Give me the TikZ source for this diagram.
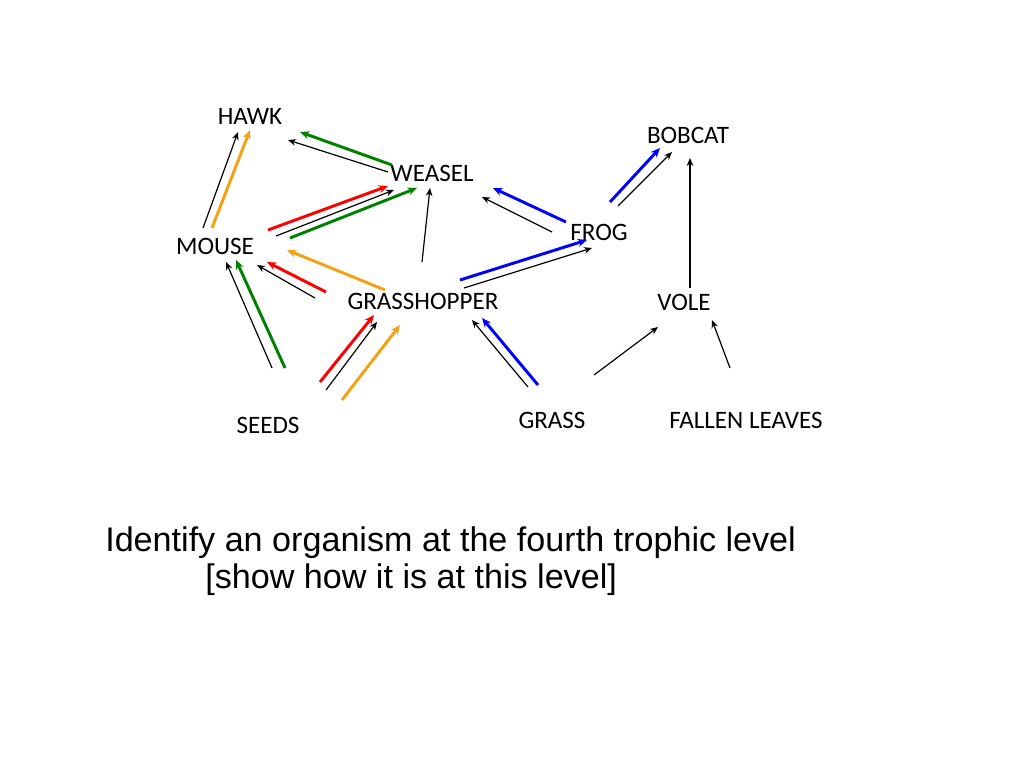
\documentclass[tikz,border=0pt]{standalone}
\usepackage{fontspec}
\setmainfont{Carlito}
\newfontfamily\arialf{Liberation Sans}
\usetikzlibrary{arrows.meta}
\definecolor{org}{RGB}{246,160,20}
\definecolor{grn}{RGB}{0,128,0}
\begin{document}
\begin{tikzpicture}[x=0.75pt,y=-0.75pt,
  lab/.style={font=\fontsize{18.8}{21}\selectfont,inner sep=0},
  bk/.style={-{Stealth[length=6pt,width=5pt]},line width=0.9pt,black},
  cl/.style={-{Stealth[length=7pt,width=6pt]},line width=2.2pt,draw=#1}]
\useasboundingbox (0,0) rectangle (1024,768);
\node[lab] (hawk) at (250,116) {HAWK};
\node[lab] (bobcat) at (688,135) {BOBCAT};
\node[lab] (weasel) at (432,173) {WEASEL};
\node[lab] (frog) at (599,232) {FROG};
\node[lab] (mouse) at (215,246) {MOUSE};
\node[lab] (gh) at (423,301) {GRASSHOPPER};
\node[lab] (vole) at (684,302) {VOLE};
\node[lab] (seeds) at (268,425) {SEEDS};
\node[lab] (grass) at (552,420) {GRASS};
\node[lab] (fallen) at (746,420) {FALLEN LEAVES};
\node[anchor=west,inner sep=0,font=\arialf\fontsize{25.6}{28}\selectfont] (q1) at (105,543) {Identify an organism at the fourth trophic level};
\node[anchor=west,inner sep=0,font=\arialf\fontsize{25.6}{28}\selectfont] (q2) at (205,580) {[show how it is at this level]};
\coordinate (a1) at (203,228); \coordinate (b1) at (238,132);
\draw[bk] (a1) -- (b1);
\coordinate (a2) at (212,228); \coordinate (b2) at (250,130);
\draw[cl=org] (a2) -- (b2);
\coordinate (a3) at (388,172); \coordinate (b3) at (288,140);
\draw[bk] (a3) -- (b3);
\coordinate (a4) at (392,165); \coordinate (b4) at (300,132);
\draw[cl=grn] (a4) -- (b4);
\coordinate (a5) at (268,230); \coordinate (b5) at (388,186);
\draw[cl=red] (a5) -- (b5);
\coordinate (a6) at (276,236); \coordinate (b6) at (394,190);
\draw[bk] (a6) -- (b6);
\coordinate (a7) at (290,238); \coordinate (b7) at (417,188);
\draw[cl=grn] (a7) -- (b7);
\coordinate (a8) at (422,262); \coordinate (b8) at (430,188);
\draw[bk] (a8) -- (b8);
\coordinate (a9) at (566,222); \coordinate (b9) at (493,188);
\draw[cl=blue] (a9) -- (b9);
\coordinate (a10) at (552,232); \coordinate (b10) at (482,197);
\draw[bk] (a10) -- (b10);
\coordinate (a11) at (385,290); \coordinate (b11) at (287,250);
\draw[cl=org] (a11) -- (b11);
\coordinate (a12) at (326,292); \coordinate (b12) at (267,262);
\draw[cl=red] (a12) -- (b12);
\coordinate (a13) at (315,298); \coordinate (b13) at (257,265);
\draw[bk] (a13) -- (b13);
\coordinate (a14) at (272,368); \coordinate (b14) at (226,262);
\draw[bk] (a14) -- (b14);
\coordinate (a15) at (285,368); \coordinate (b15) at (236,260);
\draw[cl=grn] (a15) -- (b15);
\coordinate (a16) at (320,382); \coordinate (b16) at (374,315);
\draw[cl=red] (a16) -- (b16);
\coordinate (a17) at (326,390); \coordinate (b17) at (377,322);
\draw[bk] (a17) -- (b17);
\coordinate (a18) at (342,400); \coordinate (b18) at (400,325);
\draw[cl=org] (a18) -- (b18);
\coordinate (a19) at (528,387); \coordinate (b19) at (472,320);
\draw[bk] (a19) -- (b19);
\coordinate (a20) at (538,385); \coordinate (b20) at (482,318);
\draw[cl=blue] (a20) -- (b20);
\coordinate (a21) at (460,280); \coordinate (b21) at (587,240);
\draw[cl=blue] (a21) -- (b21);
\coordinate (a22) at (464,288); \coordinate (b22) at (592,248);
\draw[bk] (a22) -- (b22);
\coordinate (a23) at (610,202); \coordinate (b23) at (660,148);
\draw[cl=blue] (a23) -- (b23);
\coordinate (a24) at (618,206); \coordinate (b24) at (672,152);
\draw[bk] (a24) -- (b24);
\coordinate (a25) at (690,288); \coordinate (b25) at (690,158);
\draw[bk] (a25) -- (b25);
\coordinate (a26) at (594,375); \coordinate (b26) at (658,327);
\draw[bk] (a26) -- (b26);
\coordinate (a27) at (730,368); \coordinate (b27) at (712,320);
\draw[bk] (a27) -- (b27);
\end{tikzpicture}
\end{document}
